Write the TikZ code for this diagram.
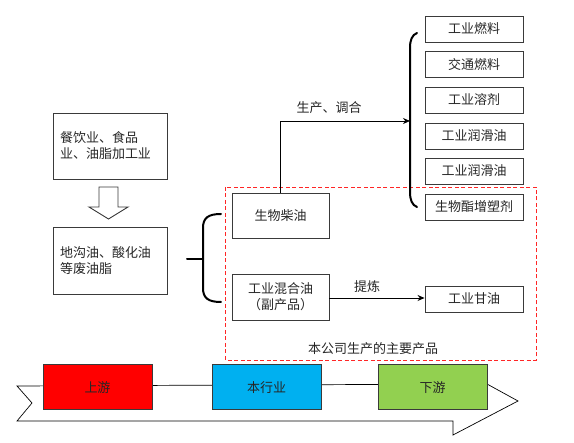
\documentclass[tikz,border=0pt]{standalone}
\usepackage{fontspec}
\setmainfont{Noto Sans CJK SC}
\usetikzlibrary{arrows.meta}
\definecolor{upred}{HTML}{FF0000}
\definecolor{midblue}{HTML}{00B0F0}
\definecolor{downgreen}{HTML}{92D050}
\definecolor{boxgray}{HTML}{3A3A3A}
\begin{document}
\begin{tikzpicture}[x=1pt,y=-1pt,
  every node/.style={font=\fontsize{13}{16}\selectfont, text=black!85},
  box/.style={draw=boxgray, line width=0.9pt, inner sep=0pt, align=center},
  prod/.style={box, minimum width=98pt, minimum height=26pt},
  chain/.style={draw=boxgray, line width=1pt, inner sep=0pt, minimum width=109pt, minimum height=45pt},
  conn/.style={line width=0.8pt, -{Stealth[length=7pt,width=6pt]}},
  brace/.style={line width=2pt, line cap=round}
]
\useasboundingbox (0,0) rectangle (574,443);

% bottom chain arrow
\draw[line width=0.7pt, line join=miter] (17,386) -- (487,384) -- (518,401) -- (453,435) -- (453,421) -- (17,421) -- (32,403) -- cycle;
\node[chain, fill=upred] (up) at (97.5,387.5) {上游};
\node[chain, fill=midblue] (mid) at (266.5,387.5) {本行业};
\node[chain, fill=downgreen] (down) at (432.5,387.5) {下游};

% left column
\node[box, text width=100pt, inner xsep=7pt, minimum height=66pt, align=left] (food) at (110,146) {餐饮业、食品\\业、油脂加工业};
\node[box, text width=100pt, inner xsep=7pt, minimum height=67pt, align=left] (waste) at (110,260.5) {地沟油、酸化油\\等废油脂};
\draw[draw=boxgray, line width=0.9pt, fill=white] (99,187) -- (118,187) -- (118,207) -- (128,207) -- (108.5,219) -- (89,207) -- (99,207) -- cycle;

% left brace
\coordinate (lb) at (187,259);
\coordinate (lbm) at (203,259);
\draw[brace] (lb) -- (lbm);
\draw[brace] (221,214) .. controls (208,214) and (203,218) .. (203,228) -- (203,288) .. controls (203,298) and (208,302) .. (221,302);

% company products
\node[box, minimum width=97pt, minimum height=45pt] (bio) at (280.5,215.5) {生物柴油};
\node[box, minimum width=97pt, minimum height=46pt] (mix) at (280.5,297) {工业混合油\\（副产品）};
\node[prod] (gly) at (474,299) {工业甘油};
\draw[conn] (mix.east |- 0,298) -- (gly.west |- 0,298);
\node (refine) at (367,287) {提炼};

% dashed region
\draw[draw=red!85, dashed, dash pattern=on 4pt off 2.5pt, line width=0.8pt] (225,187) rectangle (536,360);
\node (main) at (373,349) {本公司生产的主要产品};

% right products
\node[prod] (p1) at (474,29) {工业燃料};
\node[prod] (p2) at (474,64.5) {交通燃料};
\node[prod] (p3) at (474,100) {工业溶剂};
\node[prod] (p4) at (474,136) {工业润滑油};
\node[prod] (p5) at (474,171) {工业润滑油};
\node[prod] (p6) at (474,207) {生物酯增塑剂};

% right brace
\draw[brace] (417,33) .. controls (412,35) and (410,40) .. (410,48) -- (410,192) .. controls (410,200) and (412,205) .. (417,207);
\coordinate (rb) at (410,121);
\draw[conn] (bio.north) |- (rb);
\node (blend) at (329,108) {生产、调合};
\end{tikzpicture}
\end{document}
